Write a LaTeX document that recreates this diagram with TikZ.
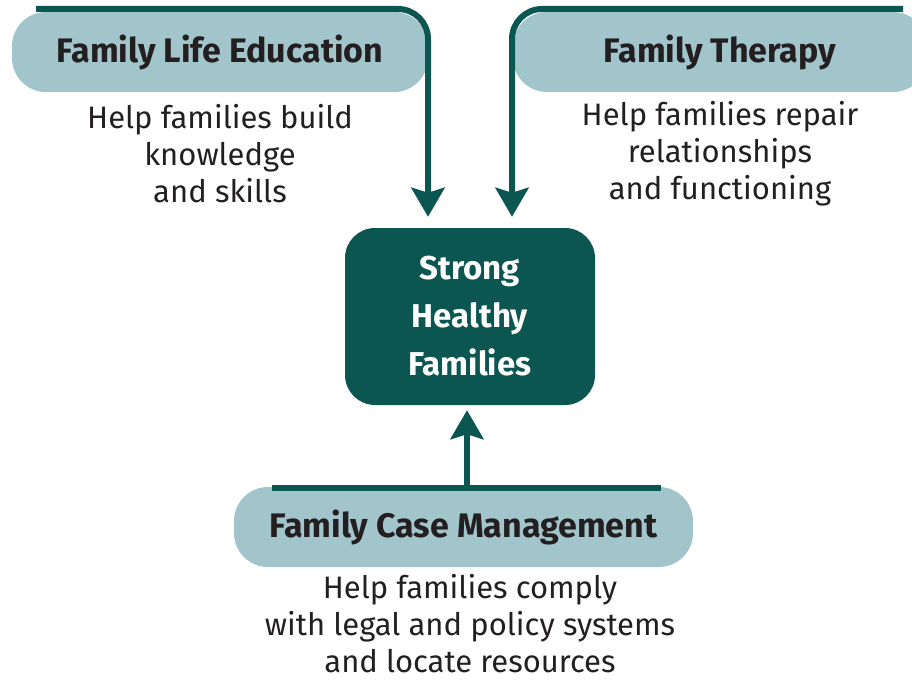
\documentclass[tikz,border=0pt]{standalone}
\usepackage{fontspec}
\setmainfont{Fira Sans}
\usepackage{xcolor}
\usetikzlibrary{positioning,calc,arrows.meta}

\definecolor{pillblue}{HTML}{A2C5CC}
\definecolor{deepteal}{HTML}{0C5652}
\definecolor{ink}{HTML}{231F20}

\begin{document}
\begin{tikzpicture}[
		x=1pt,y=-1pt,
		line join=round,
		pillbox/.style={fill=pillblue, rounded corners=34pt, inner sep=0pt,
			minimum height=80pt, text=ink,
			font=\bfseries\fontsize{34}{40}\selectfont},
		corebox/.style={fill=deepteal, rounded corners=30pt, inner sep=0pt,
			minimum width=250pt, minimum height=177pt, text=white, align=center,
			font=\bfseries\fontsize{33}{48}\selectfont},
		note/.style={align=center, text=ink, inner sep=0pt,
			font=\fontsize{31}{37}\selectfont},
		bar/.style={draw=deepteal, line width=6pt},
		link/.style={bar, -{Stealth[length=29pt,width=33pt,inset=5pt]}}
	]
	% ---- canvas
	\useasboundingbox (0,0) rectangle (912,682);
	\clip (0,0) rectangle (912,682);
	
	% ---- centre
	\node[corebox] (core) at (470,316.5) {Strong\\Healthy\\Families};
	
	% ---- the three services
	\node[pillbox, minimum width=416pt] (fle) at (220,52) {Family Life Education};
	\node[pillbox, minimum width=414pt] (ft) at (720,52) {Family Therapy};
	\node[pillbox, minimum width=459pt] (fcm) at (463.5,527) {Family Case Management};
	
	% ---- what each one does
	\node[note] (fleNote) at (220,154) {Help families build\\knowledge\\and skills};
	\node[note] (ftNote) at (720,154) {Help families repair\\relationships\\and functioning};
	\node[note] (fcmNote) at (470,624) {Help families comply\\with legal and policy systems\\and locate resources};
	
	% ---- start points of the bars
	\coordinate (fleStart) at (36,9);
	\coordinate (ftStart) at (903,9);
	\coordinate (fcmLeft) at (272,488);
	\coordinate (fcmRight) at (661,488);
	\coordinate (fcmMid) at (467,488);
	
	% ---- connectors
	\draw[link, rounded corners=30pt, shorten >=11pt]
	(fleStart) -| ([xshift=-42pt]core.north);
	\draw[link, rounded corners=30pt, shorten >=11pt]
	(ftStart) -| ([xshift=42pt]core.north);
	\draw[bar] (fcmLeft) -- (fcmRight);
	\draw[link, shorten >=5pt] (fcmMid) -- (fcmMid |- core.south);
\end{tikzpicture}
\end{document}
